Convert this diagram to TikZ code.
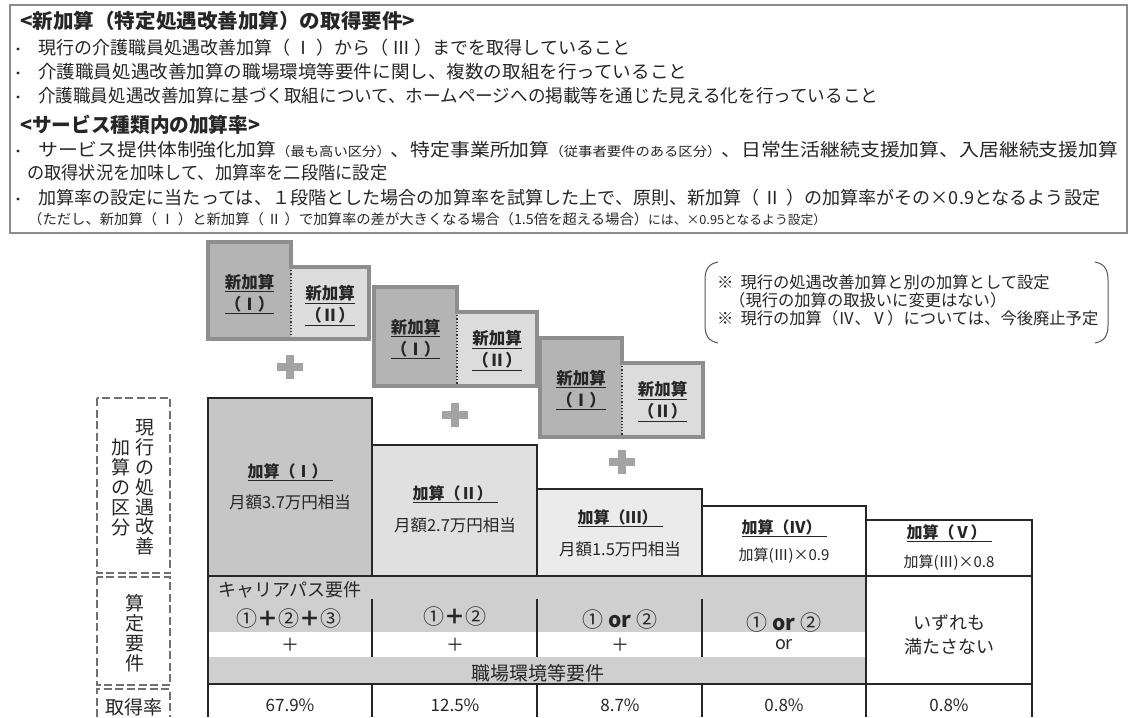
\documentclass[tikz,border=0pt]{standalone}
\usepackage{fontspec}
\setmainfont{Noto Sans CJK JP}
\usepackage{graphicx}
\definecolor{txt}{HTML}{262626}
\definecolor{frame}{HTML}{8C8C8C}
\definecolor{nbdr}{HTML}{8E8E8E}
\definecolor{nI}{HTML}{B4B4B4}
\definecolor{nII}{HTML}{DCDCDC}
\definecolor{kI}{HTML}{C6C6C6}
\definecolor{kII}{HTML}{E0E0E0}
\definecolor{kIII}{HTML}{EBEBEB}
\definecolor{band}{HTML}{CFCFCF}
\definecolor{plusc}{HTML}{A3A3A3}
\definecolor{dashc}{HTML}{707070}
\definecolor{brk}{HTML}{555555}
\newcommand{\fitw}[2]{\resizebox{#1}{\height}{#2}}
\newcommand{\fsz}[1]{\fontsize{#1}{#1}\selectfont}
\newcommand{\nkbox}[7]{%
  \fill[nI] (#1,#4) rectangle (#2,#6);
  \fill[nII] (#2,#5) rectangle (#3,#6);
  \draw[black!80, line width=1.2pt, dotted] (#2,#5) -- (#2,#6);
  \draw[nbdr, line width=4pt, line join=miter] (#1,#4) -- (#2,#4) -- (#2,#5) -- (#3,#5) -- (#3,#6) -- (#1,#6) -- cycle;
  \node[nlabel] (#7a) at ({(#1+#2)/2},{#4+52}) {\underline{新加算}\\\underline{（Ⅰ）}};
  \node[nlabel] (#7b) at ({(#2+#3)/2},{#5+38.5}) {\underline{新加算}\\\underline{（Ⅱ）}};
}
\newcommand{\plusmark}[2]{%
  \fill[plusc] ({#1-13},{#2-4}) rectangle ({#1+13},{#2+4});
  \fill[plusc] ({#1-4},{#2-12}) rectangle ({#1+4},{#2+12});
}
\begin{document}
\begin{tikzpicture}[x=1pt,y=-1pt,
  every node/.style={inner sep=0pt, text=txt},
  bul/.style={circle, fill=txt, minimum size=3.2pt},
  nlabel/.style={font=\fontsize{16.5}{22}\selectfont\bfseries, align=center},
  ktitle/.style={font=\fontsize{16}{16}\selectfont\bfseries},
  ksub/.style={font=\fontsize{16.5}{16.5}\selectfont},
  ksubs/.style={font=\fontsize{15}{15}\selectfont},
  req/.style={font=\fontsize{21}{21}\selectfont},
  reqs/.style={font=\fontsize{18}{18}\selectfont},
  pct/.style={font=\fontsize{17}{17}\selectfont},
  vtext/.style={font=\fontsize{19}{19.8}\selectfont, align=center},
  lgtext/.style={font=\fontsize{16.3}{16.3}\selectfont, anchor=west},
  tline/.style={draw=black!85, line width=2.6pt},
  dbox/.style={draw=dashc, line width=2.2pt, dash pattern=on 8pt off 3.5pt},
]
\useasboundingbox (0,0) rectangle (1142,717);
\fill[white] (0,0) rectangle (1142,717);

% ---------- top frame with requirements ----------
\draw[frame, line width=1.5pt] (10,5) rectangle (1127,233);
\node[anchor=west] (h1) at (20,21) {\fitw{395pt}{\fsz{20}\bfseries <新加算（特定処遇改善加算）の取得要件>}};
\node[bul] (b1) at (18,49) {};
\node[anchor=west] (l1) at (38,48) {\fitw{592pt}{\fsz{18}現行の介護職員処遇改善加算（ Ⅰ ）から（ Ⅲ ）までを取得していること}};
\node[bul] (b2) at (18,73) {};
\node[anchor=west] (l2) at (38,72) {\fitw{649pt}{\fsz{18}介護職員処遇改善加算の職場環境等要件に関し、複数の取組を行っていること}};
\node[bul] (b3) at (18,97) {};
\node[anchor=west] (l3) at (38,96) {\fitw{840pt}{\fsz{18}介護職員処遇改善加算に基づく取組について、ホームページへの掲載等を通じた見える化を行っていること}};
\node[anchor=west] (h2) at (20,125) {\fitw{240pt}{\fsz{20}\bfseries <サービス種類内の加算率>}};
\node[bul] (b4) at (18,151) {};
\node[anchor=west] (l4) at (38,150) {\fitw{1080pt}{\fsz{18}サービス提供体制強化加算{\fsz{13}（最も高い区分）}、特定事業所加算{\fsz{13}（従事者要件のある区分）}、日常生活継続支援加算、入居継続支援加算}};
\node[anchor=west] (l5) at (27,173) {\fitw{360pt}{\fsz{18}の取得状況を加味して、加算率を二段階に設定}};
\node[bul] (b6) at (18,199) {};
\node[anchor=west] (l6) at (38,198) {\fitw{1062pt}{\fsz{18}加算率の設定に当たっては、１段階とした場合の加算率を試算した上で、原則、新加算（ Ⅱ ）の加算率がその×0.9となるよう設定}};
\node[anchor=west] (l7) at (28,219) {\fitw{798pt}{{\fsz{14}（ただし、新加算（ Ⅰ ）と新加算（ Ⅱ ）で加算率の差が大きくなる場合（1.5倍を超える場合）}{\fsz{12.5}には、×0.95となるよう設定）}}};

% ---------- legend ----------
\draw[brk, line width=1pt] (718,262) .. controls (708,264) and (705,270) .. (705,280) -- (705,325) .. controls (705,335) and (708,341) .. (718,343);
\draw[brk, line width=1pt] (1095,262) .. controls (1105,264) and (1108,270) .. (1108,280) -- (1108,325) .. controls (1108,335) and (1105,341) .. (1095,343);
\node[lgtext] (lg1) at (717,282) {※\hspace{7pt}現行の処遇改善加算と別の加算として設定};
\node[lgtext] (lg2) at (729,300) {（現行の加算の取扱いに変更はない）};
\node[lgtext] (lg3) at (717,318) {※\hspace{7pt}現行の加算（Ⅳ、Ⅴ）については、今後廃止予定};

% ---------- new addition boxes ----------
\nkbox{208}{291}{369}{242}{267}{339}{nb1}
\nkbox{374}{457}{537}{287}{312}{386}{nb2}
\nkbox{540}{622}{703}{338}{363}{437}{nb3}
\plusmark{290}{367}
\plusmark{455}{415}
\plusmark{622}{462}

% ---------- left dashed labels ----------
\draw[dbox] (97,398) rectangle (170,573);
\draw[dbox] (97,577) rectangle (170,685);
\draw[dbox] (97,717) -- (97,689) -- (170,689) -- (170,717);
\node[vtext] (v1) at (145,487.5) {現\\行\\の\\処\\遇\\改\\善};
\node[vtext] (v2) at (121,487.5) {加\\算\\の\\区\\分};
\node[vtext, font=\fontsize{19}{20}\selectfont] (v3) at (135,633) {算\\定\\要\\件};
\node[font=\fontsize{19}{19}\selectfont] (v4) at (134,707) {取得率};

% ---------- table fills ----------
\fill[kI] (208,398) rectangle (372,576);
\fill[kII] (372,445) rectangle (537,576);
\fill[kIII] (537,489) rectangle (702,576);
\fill[band] (208,576) rectangle (866,632);
\fill[band] (208,657) rectangle (866,684);

% ---------- table lines ----------
\draw[tline] (208,398) rectangle (372,576);
\draw[tline] (372,445) rectangle (537,576);
\draw[tline] (537,489) rectangle (702,576);
\draw[tline] (702,506) rectangle (866,576);
\draw[tline] (866,520) rectangle (1032,576);
\draw[tline] (208,576) -- (208,717);
\draw[tline] (866,576) -- (866,717);
\draw[tline] (1032,576) -- (1032,717);
\draw[tline] (208,684) -- (1032,684);
\foreach \x in {372,537,702} {
  \draw[tline] (\x,599) -- (\x,657);
  \draw[tline] (\x,684) -- (\x,717);
}

% ---------- current addition boxes text ----------
\node[ktitle] (k1t) at (290,472) {\underline{加算（Ⅰ）\hspace{5pt}}};
\node[ksub] (k1s) at (290,502) {月額3.7万円相当};
\node[ktitle] (k2t) at (455,494) {\underline{加算（Ⅱ）\hspace{5pt}}};
\node[ksub] (k2s) at (455,525) {月額2.7万円相当};
\node[ktitle] (k3t) at (620,518) {\underline{加算（Ⅲ）\hspace{5pt}}};
\node[ksub] (k3s) at (620,549) {月額1.5万円相当};
\node[ktitle] (k4t) at (784,528) {\underline{加算（Ⅳ）\hspace{5pt}}};
\node[ksubs] (k4s) at (784,556) {加算(Ⅲ)×0.9};
\node[ktitle] (k5t) at (949,533) {\underline{加算（Ⅴ）\hspace{5pt}}};
\node[ksubs] (k5s) at (949,563) {加算(Ⅲ)×0.8};

% ---------- requirements ----------
\node[reqs, anchor=west] (cp) at (218,590) {キャリアパス要件};
\node[req] (r1) at (289,619) {①\textbf{＋}②\textbf{＋}③};
\node[req] (r2) at (455,617) {①\textbf{＋}②};
\node[req] (r3) at (620,620) {①\hspace{5pt}\textbf{or}\hspace{5pt}②};
\node[req] (r4) at (784,623) {①\hspace{5pt}\textbf{or}\hspace{5pt}②};
\node[reqs] (p1) at (290,645) {＋};
\node[reqs] (p2) at (455,645) {＋};
\node[reqs] (p3) at (620,645) {＋};
\node[reqs] (o4) at (784,645) {or};
\node[align=center, font=\fontsize{18}{24}\selectfont] (n5) at (949,635) {いずれも\\満たさない};
\node[font=\fontsize{19}{19}\selectfont] (sk) at (538,673) {職場環境等要件};

% ---------- rates ----------
\node[pct] (q1) at (290,705) {67.9\%};
\node[pct] (q2) at (455,705) {12.5\%};
\node[pct] (q3) at (620,705) {8.7\%};
\node[pct] (q4) at (784,705) {0.8\%};
\node[pct] (q5) at (949,705) {0.8\%};
\end{tikzpicture}
\end{document}
